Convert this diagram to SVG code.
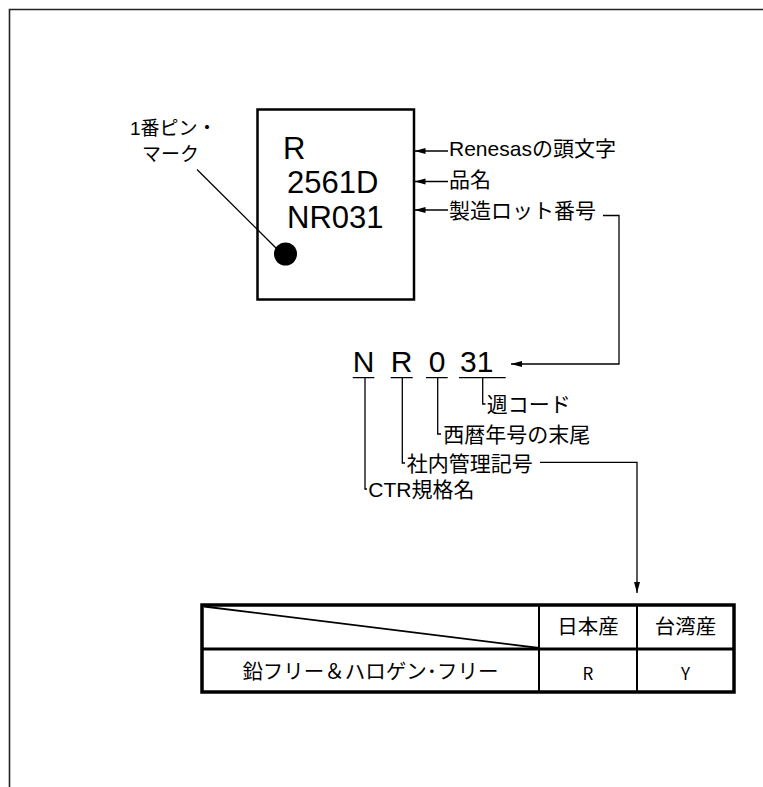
<svg xmlns="http://www.w3.org/2000/svg" width="763" height="787" viewBox="0 0 763 787">
<style>
  .ln { fill: none; stroke: #000; stroke-width: 1.3; }
  .lbl { font-family: 'Liberation Sans', 'Noto Sans CJK JP', sans-serif; font-size: 21px; fill: #000; }
  .chip { font-family: 'Liberation Sans', 'Noto Sans CJK JP', sans-serif; font-size: 31px; fill: #000; }
  .code { font-family: 'Liberation Sans', 'Noto Sans CJK JP', sans-serif; font-size: 30px; fill: #000; text-anchor: middle; }
  .tbl { font-family: 'Noto Sans CJK JP', sans-serif; font-size: 20.5px; fill: #000; text-anchor: middle; }
  .tlat { font-family: 'Noto Sans CJK JP', 'Noto Sans', sans-serif; font-size: 17px; fill: #000; text-anchor: middle; }
</style>
<defs>
  <marker id="ah" markerUnits="userSpaceOnUse" markerWidth="12" markerHeight="7" refX="11" refY="3" orient="auto">
    <path d="M0,0 L11,3 L0,6 Z" fill="#000"/>
  </marker>
</defs>
<rect width="763" height="787" fill="#fff"/>
<g id="frame">
  <path d="M9.5,787 V9.5 H763" fill="none" stroke="#222" stroke-width="1.6"/>
</g>
<g id="chip">
  <rect x="257.5" y="109.5" width="156.5" height="190" fill="none" stroke="#000" stroke-width="2.5"/>
  <text class="chip" x="283" y="159">R</text>
  <text class="chip" x="287" y="193">2561D</text>
  <text class="chip" x="287" y="228">NR031</text>
  <circle cx="285.5" cy="254" r="11.5" fill="#000"/>
</g>
<g id="pin1-label">
  <text class="lbl" style="font-size:19px" x="130" y="135">1番ピン・</text>
  <text class="lbl" style="font-size:19px" x="142" y="161">マーク</text>
</g>
<g id="label-renesas"><text class="lbl" x="449" y="155.5">Renesasの頭文字</text></g>
<g id="label-name"><text class="lbl" x="449" y="187">品名</text></g>
<g id="label-lot"><text class="lbl" x="449" y="218">製造ロット番号</text></g>
<g id="code">
  <text class="code" x="363.7" y="371.7">N</text>
  <text class="code" x="401.7" y="371.7">R</text>
  <text class="code" x="437" y="371.7">0</text>
  <text class="code" x="476.7" y="371.7">31</text>
  <path class="ln" d="M352.7,377.7 H374.3 M390.7,377.7 H412.7 M426,377.7 H447.7 M459,377.7 H505.7"/>
</g>
<g id="label-week"><text class="lbl" x="486.7" y="412">週コード</text></g>
<g id="label-year"><text class="lbl" x="443.3" y="442">西暦年号の末尾</text></g>
<g id="label-internal"><text class="lbl" x="406.7" y="470.5">社内管理記号</text></g>
<g id="label-ctr"><text class="lbl" x="368.3" y="497">CTR規格名</text></g>
<g id="table">
  <rect x="202" y="605" width="532" height="87" fill="none" stroke="#000" stroke-width="3.5"/>
  <line x1="202" y1="649" x2="734" y2="649" stroke="#000" stroke-width="3"/>
  <line x1="539" y1="605" x2="539" y2="692" stroke="#000" stroke-width="2"/>
  <line x1="637" y1="605" x2="637" y2="692" stroke="#000" stroke-width="2"/>
  <line x1="204" y1="606.5" x2="539" y2="648" stroke="#000" stroke-width="1.8"/>
  <text class="tbl" x="588" y="634">日本産</text>
  <text class="tbl" x="685.5" y="634">台湾産</text>
  <text class="tbl" x="370.5" y="679">鉛フリー＆ハロゲン･フリー</text>
  <text class="tlat" x="588" y="680">R</text>
  <text class="tlat" x="685.5" y="680">Y</text>
</g>
<g id="connectors">
  <line class="ln" x1="448" y1="151" x2="414.5" y2="151" marker-end="url(#ah)"/>
  <line class="ln" x1="448" y1="181.5" x2="414.5" y2="181.5" marker-end="url(#ah)"/>
  <line class="ln" x1="448" y1="210" x2="414.5" y2="210" marker-end="url(#ah)"/>
  <line class="ln" x1="197" y1="169.5" x2="277" y2="249"/>
  <path class="ln" d="M603,215.5 H619 V364 H511" marker-end="url(#ah)"/>
  <path class="ln" d="M482.7,377.7 V404 H485.5"/>
  <path class="ln" d="M437.7,377.7 V434 H441"/>
  <path class="ln" d="M402.3,377.7 V463 H405"/>
  <path class="ln" d="M365,377.7 V489 H367"/>
  <path class="ln" d="M540,462.3 H637 V593" marker-end="url(#ah)"/>
</g>
</svg>
